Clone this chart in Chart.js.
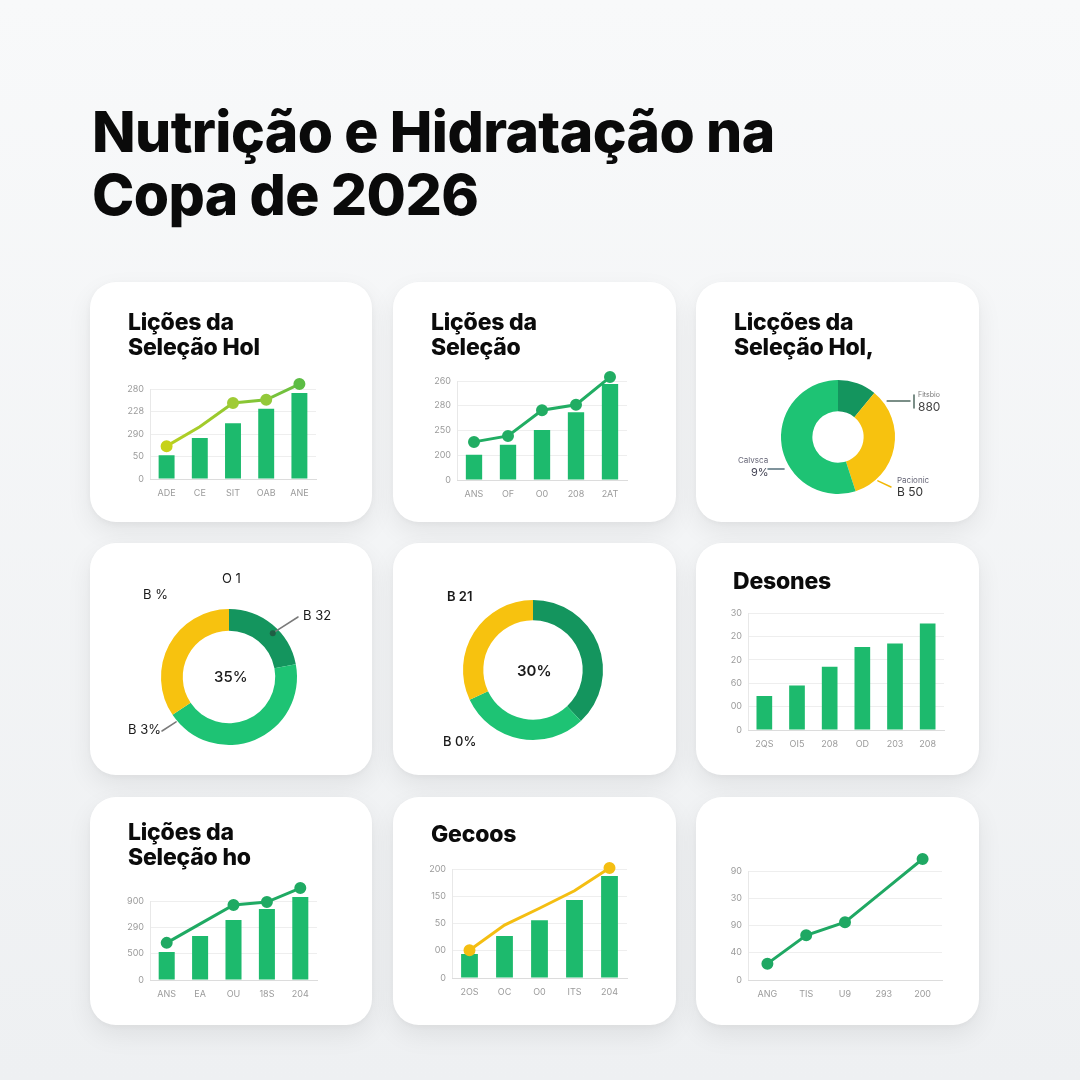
<!DOCTYPE html>
<html><head><meta charset="utf-8">
<script src="https://cdn.jsdelivr.net/npm/chart.js@4.4.1/dist/chart.umd.min.js"></script>
<style>
html,body{margin:0;padding:0;}
body{width:1080px;height:1080px;background:linear-gradient(180deg,#f8f9fa 0%,#eef0f2 100%);position:relative;overflow:hidden;font-family:Inter,"Open Sans",sans-serif;}
#title{position:absolute;left:92px;top:100px;font-size:57px;font-weight:800;line-height:63px;color:#0a0a0a;letter-spacing:-0.6px;}
.card{position:absolute;background:#fff;border-radius:26px;box-shadow:0 10px 26px rgba(0,0,0,0.07),0 2px 6px rgba(0,0,0,0.04);}
.card canvas{position:absolute;left:0;top:0;}
.ct{position:absolute;font-weight:800;font-size:23px;line-height:25px;color:#0b0b0b;letter-spacing:-0.2px;white-space:nowrap;}
.lbl{position:absolute;white-space:nowrap;color:#1a1a1a;font-size:13px;line-height:14px;}
</style>
</head><body>
<div id="title"></div>
<script>
// ---------- DATA ----------
const mainTitle = ["Nutrição e Hidratação na","Copa de 2026"];

const c1Title = ["Lições da","Seleção Hol"];
const c1Cats  = ["ADE","CE","SIT","OAB","ANE"];
const c1Bars  = [53,91,124,156,191];
const c1Line  = [73,116,169,176,211];
const c1Ticks = ["0","50","290","228","280"];

const c2Title = ["Lições da","Seleção"];
const c2Cats  = ["ANS","OF","O0","208","2AT"];
const c2Bars  = [51,71,101,137,194];
const c2Line  = [77,89,141,152,208];
const c2Ticks = ["0","200","250","280","260"];

const c3Title  = ["Licções da","Seleção Hol,"];
const c3Slices = [11,34,55];
const c3Labels = [["Fitsbio","880"],["Calvsca","9%"],["Pacionic","B 50"]];

const c4Slices = [22,43.6,34.4];
const c4Center = "35%";
const c4Labels = ["O 1","B %","B 32","B 3%"];

const c5Slices = [38,30,32];
const c5Center = "30%";
const c5Labels = ["B 21","B 0%"];

const c6Title = ["Desones"];
const c6Cats  = ["2QS","OI5","208","OD","203","208"];
const c6Bars  = [29,38,54,71,74,91];
const c6Ticks = ["0","00","60","20","20","30"];

const c7Title = ["Lições da","Seleção ho"];
const c7Cats  = ["ANS","EA","OU","18S","204"];
const c7Bars  = [106,167,228,270,315];
const c7Line  = [141,213,285,296,349];
const c7Ticks = ["0","500","290","900"];

const c8Title = ["Gecoos"];
const c8Cats  = ["2OS","OC","O0","ITS","204"];
const c8Bars  = [44,77,106,143,187];
const c8Line  = [51,97,128,160,202];
const c8Ticks = ["0","00","50","150","200"];

const c9Cats  = ["ANG","TIS","U9","293","200"];
const c9Line  = [15,41,53,82,111];
const c9Ticks = ["0","40","90","30","90"];

// ---------- STYLE ----------
document.getElementById('title').innerHTML=mainTitle.join('<br>');
const GREEN='#1dba6d', DARK='#14955e', LGREEN='#1ec374', YELLOW='#f7c20f';
const TICK={size:9,family:'Inter, sans-serif'};
const EXT=1.25;
Chart.defaults.animation=false;
Chart.defaults.plugins.legend.display=false;
Chart.defaults.plugins.tooltip.enabled=false;
Chart.defaults.font.family='Inter, sans-serif';

function card(x,y,w,h){
  const d=document.createElement('div');d.className='card';
  Object.assign(d.style,{left:x+'px',top:y+'px',width:w+'px',height:h+'px'});
  const c=document.createElement('canvas');c.width=w;c.height=h;
  c.style.width=w+'px';c.style.height=h+'px';
  d.appendChild(c);document.body.appendChild(d);return {d,c,w,h};
}
function title(d,lines,left,top){
  const t=document.createElement('div');t.className='ct';
  t.style.left=left+'px';t.style.top=top+'px';
  t.innerHTML=lines.join('<br>');d.appendChild(t);
}
function label(d,text,left,top,st){
  const t=document.createElement('div');t.className='lbl';
  t.style.left=left+'px';t.style.top=top+'px';t.textContent=text;
  if(st)Object.assign(t.style,st);d.appendChild(t);
}
function axes(max,step,ticks,yW){
  return {
    x:{grid:{display:false},border:{color:'#dcdcdc'},
       ticks:{font:TICK,color:'#9b9b9b',padding:1,maxRotation:0,autoSkip:false},
       afterFit(s){s.height=20;}},
    y:{min:0,max:max*EXT,grid:{color:'#eeeeee',drawTicks:false},border:{display:false},
       ticks:{stepSize:step,font:TICK,color:'#9b9b9b',padding:6,callback:(v,i)=>ticks[i]},
       afterBuildTicks(s){s.ticks=s.ticks.filter(t=>t.value<=max+1e-9);},
       afterFit(s){s.width=yW;}}
  };
}
const axisLine={id:'axisLine',
  beforeDatasetsDraw(chart){
    const y=chart.scales.y, a=chart.chartArea, ctx=chart.ctx;
    const top=y.getPixelForValue(y.ticks[y.ticks.length-1].value);
    ctx.save();ctx.strokeStyle='#e8e8e8';ctx.lineWidth=1;
    ctx.beginPath();ctx.moveTo(a.left+0.5,top);ctx.lineTo(a.left+0.5,a.bottom);ctx.stroke();ctx.restore();
  }};

function grad(c1,c2){
  return (ctx)=>{const ch=ctx.chart;const a=ch.chartArea;if(!a)return c1;
    const g=ch.ctx.createLinearGradient(a.left,0,a.right,0);g.addColorStop(0,c1);g.addColorStop(1,c2);return g;};
}

function barLine(box,cats,bars,line,max,step,ticks,P,lineColor,pointColors,pointR){
  const yW=24;
  const bottom=box.h-P[3], span=bottom-P[1];
  const top=P[1]-(EXT-1)*span;
  const ds=[];
  if(line){ds.push({type:'line',data:line,borderColor:lineColor,borderWidth:3,
     pointBackgroundColor:pointColors,pointBorderColor:pointColors,pointRadius:pointR||4,
     tension:0,clip:false,order:0});}
  if(bars){ds.push({type:'bar',data:bars,backgroundColor:GREEN,barPercentage:0.48,categoryPercentage:1,order:1});}
  new Chart(box.c,{type:'bar',plugins:[axisLine],data:{labels:cats,datasets:ds},
    options:{responsive:false,layout:{padding:{left:P[0]-yW,top:top,right:P[2],bottom:P[3]-20}},
      scales:axes(max,step,ticks,yW)}});
}

const leaderPlugin={id:'leaders',
  afterDatasetsDraw(chart,args,opts){
    const arc=chart.getDatasetMeta(0).data[0];if(!arc)return;
    const {x,y,outerRadius}=arc;const ctx=chart.ctx;
    (opts.items||[]).forEach(it=>{
      const a=(it.angle-90)*Math.PI/180, r=outerRadius*it.r;
      const sx=x+Math.cos(a)*r, sy=y+Math.sin(a)*r;
      ctx.save();ctx.strokeStyle=it.color;ctx.lineWidth=it.w||1.5;ctx.lineCap='round';
      ctx.beginPath();ctx.moveTo(sx,sy);ctx.lineTo(x+it.dx,y+it.dy);ctx.stroke();
      if(it.tick){ctx.lineWidth=1.5;ctx.beginPath();ctx.moveTo(x+it.dx+4,y+it.dy-6);ctx.lineTo(x+it.dx+4,y+it.dy+7);ctx.stroke();}
      if(it.dot){ctx.fillStyle=it.dot;ctx.beginPath();ctx.arc(sx,sy,3,0,Math.PI*2);ctx.fill();}
      ctx.restore();
    });
  }};

function donut(box,data,colors,cut,P,items){
  new Chart(box.c,{type:'doughnut',plugins:[leaderPlugin],
    data:{datasets:[{data:data,backgroundColor:colors,borderWidth:0,hoverOffset:0,offset:0}]},
    options:{responsive:false,cutout:cut,layout:{padding:{left:P[0],top:P[1],right:P[2],bottom:P[3]}},
      plugins:{leaders:{items:items||[]}}}});
}

// ---------- CARD 1 ----------
let b=card(90,282,282,240);
title(b.d,c1Title,38,28);
barLine(b,c1Cats,c1Bars,c1Line,200,50,c1Ticks,[60,107,56,43],grad('#c2d21e','#5fbd45'),
  ['#c6d21a','#a8cc2e','#9fcb35','#93c93a','#5cbc44'],[4.5,0,4.5,4.5,4.5]);

// ---------- CARD 2 ----------
b=card(393,282,283,240);
title(b.d,c2Title,38,28);
barLine(b,c2Cats,c2Bars,c2Line,200,50,c2Ticks,[64,99,49,42],'#21ad63','#21ad63',4.5);

// ---------- CARD 3 ----------
b=card(696,282,283,240);
title(b.d,c3Title,38,28);
donut(b,c3Slices,[DARK,YELLOW,LGREEN],'45%',[85,98,84,28],[
  {angle:53.7,r:1.07,dx:72,dy:-36,color:'#4f6a60',tick:true},
  {angle:239.3,r:1.1,dx:-70,dy:32,color:'#56707c'},
  {angle:137.7,r:1.04,dx:53,dy:50,color:'#f2b705'}]);
label(b.d,c3Labels[0][0],222,109,{fontSize:'7px',color:'#777',lineHeight:'8px'});
label(b.d,c3Labels[0][1],222,118,{fontSize:'12px',color:'#444'});
label(b.d,c3Labels[1][0],42,174,{fontSize:'8px',color:'#667',lineHeight:'9px'});
label(b.d,c3Labels[1][1],55,183,{fontSize:'11px',color:'#445'});
label(b.d,c3Labels[2][0],201,194,{fontSize:'8px',color:'#667',lineHeight:'9px'});
label(b.d,c3Labels[2][1],201,203,{fontSize:'12px',color:'#333'});

// ---------- CARD 4 ----------
b=card(90,543,282,232);
donut(b,c4Slices,[DARK,LGREEN,YELLOW],'68%',[71,66,75,30],[
  {angle:45,r:0.91,dx:69,dy:-60,color:'#7a7a7a',dot:'#1f5e44'},
  {angle:229.7,r:1.02,dx:-67,dy:54,color:'#7a7a7a'}]);
label(b.d,c4Labels[0],132,28);
label(b.d,c4Labels[1],53,44);
label(b.d,c4Labels[2],213,65);
label(b.d,c4Labels[3],38,179);
label(b.d,c4Center,124,126,{fontSize:'15px',fontWeight:'500',lineHeight:'16px'});

// ---------- CARD 5 ----------
b=card(393,543,283,232);
donut(b,c5Slices,[DARK,LGREEN,YELLOW],'71%',[70,57,73,35]);
label(b.d,c5Labels[0],54,46,{fontWeight:'600'});
label(b.d,c5Labels[1],50,191,{fontWeight:'500'});
label(b.d,c5Center,124,120,{fontSize:'15px',fontWeight:'600',lineHeight:'16px'});

// ---------- CARD 6 ----------
b=card(696,543,283,232);
title(b.d,c6Title,37,26);
barLine(b,c6Cats,c6Bars,null,100,20,c6Ticks,[52,70,35,45]);

// ---------- CARD 7 ----------
b=card(90,797,282,228);
title(b.d,c7Title,38,23);
barLine(b,c7Cats,c7Bars,c7Line,300,100,c7Ticks,[60,104,55,45],'#1faa63','#1faa63',[4.5,0,4.5,4.5,4.5]);

// ---------- CARD 8 ----------
b=card(393,797,283,228);
title(b.d,c8Title,38,25);
barLine(b,c8Cats,c8Bars,c8Line,200,50,c8Ticks,[59,72,49,47],'#f4be12','#f4be12',[4.5,0,0,0,4.5]);

// ---------- CARD 9 ----------
b=card(696,797,283,228);
barLine(b,c9Cats,null,c9Line,100,25,c9Ticks,[52,74,37,45],'#1fa863','#1fa863',[4.5,4.5,4.5,0,4.5]);
</script>
</body></html>
